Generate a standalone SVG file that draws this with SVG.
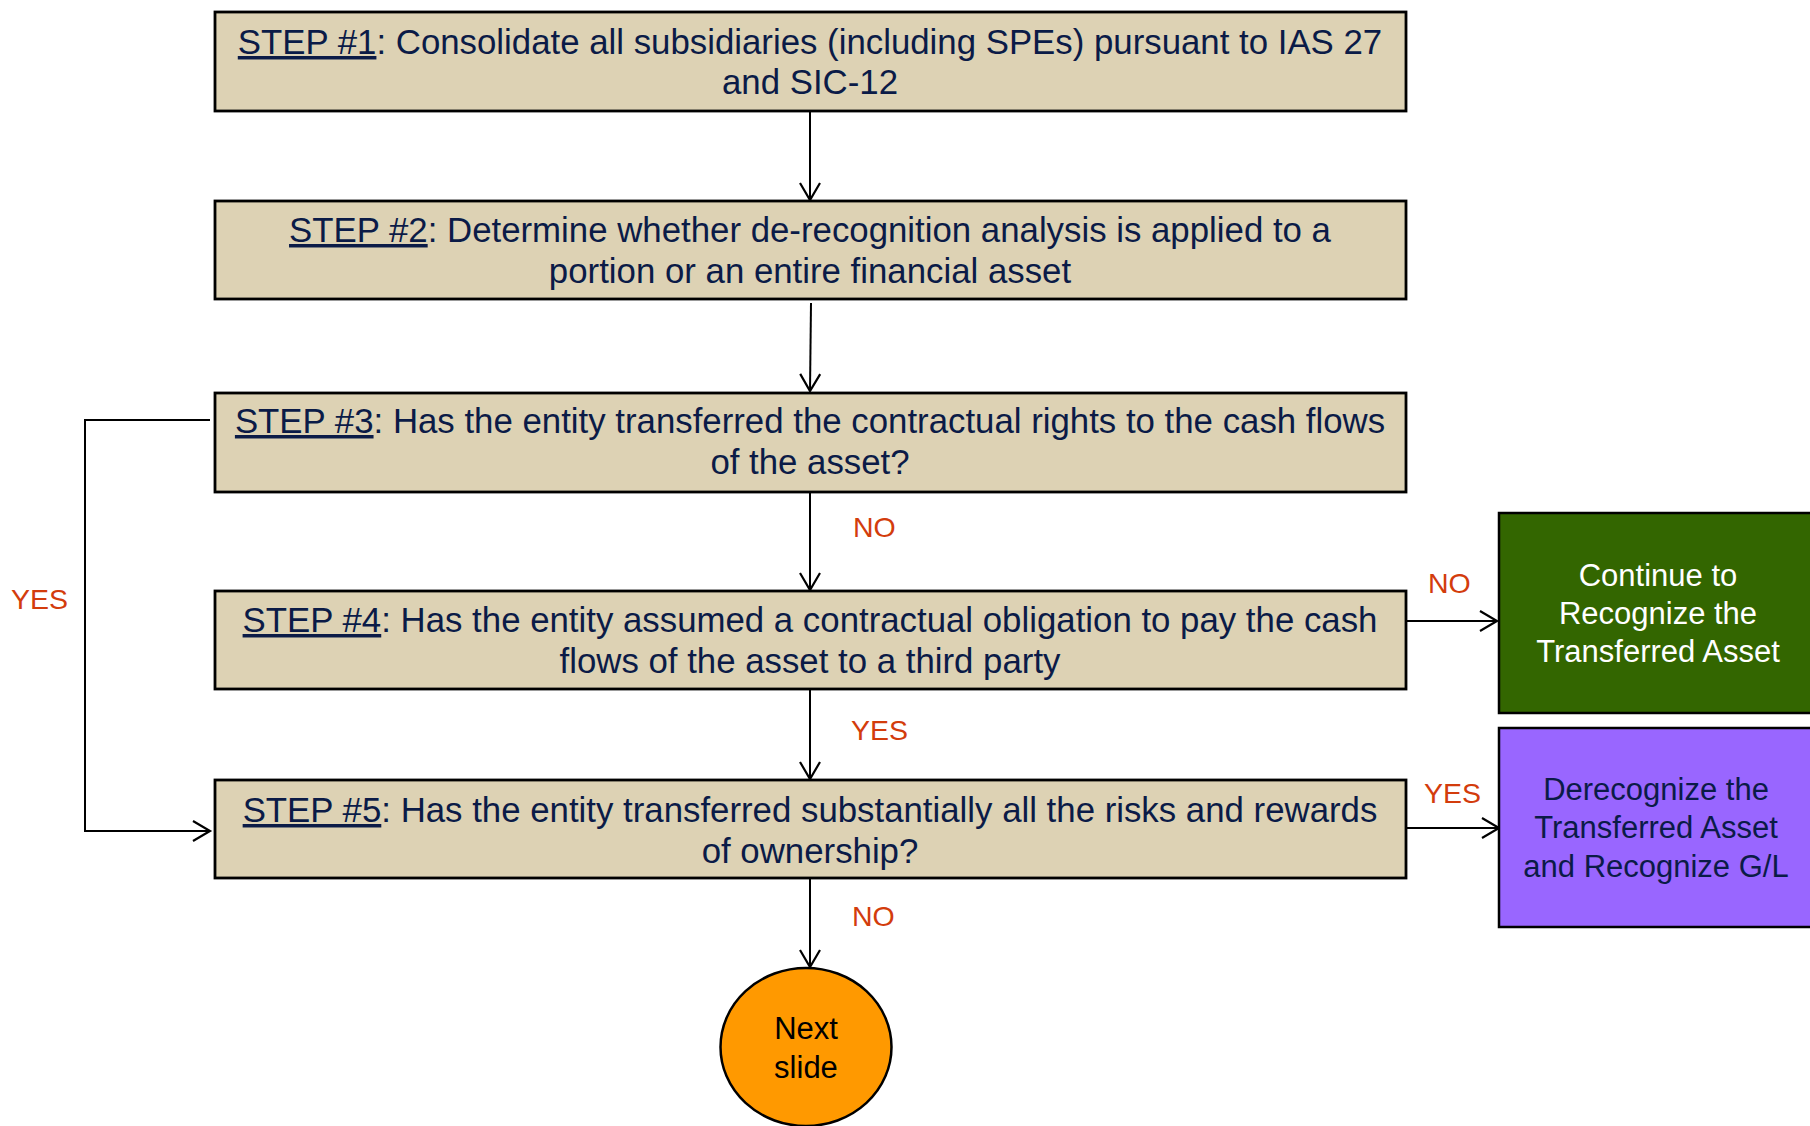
<svg xmlns="http://www.w3.org/2000/svg" width="1810" height="1126" viewBox="0 0 1810 1126">
  <style>
    .step rect { fill: #ddd2b4; stroke: #000; stroke-width: 2.8; }
    .step text { font-family: "Liberation Sans", Arial, sans-serif; font-size: 34.8px; fill: #0b1b47; text-anchor: middle; }
    .u { text-decoration: underline; }
    .lbl { font-family: "Liberation Sans", Arial, sans-serif; font-size: 28.5px; fill: #d33c0c; }
    .out text { font-family: "Liberation Sans", Arial, sans-serif; font-size: 31px; text-anchor: middle; }
    .conn path { fill: none; stroke: #000; stroke-width: 2; marker-end: url(#arr); }
  </style>
  <defs>
    <marker id="arr" markerUnits="userSpaceOnUse" markerWidth="24" markerHeight="24" viewBox="-20 -12 22 24" refX="0" refY="0" orient="auto">
      <path d="M-17,-10 L0,0 L-17,10" fill="none" stroke="#000" stroke-width="2.2"/>
    </marker>
  </defs>
  <rect width="1810" height="1126" fill="#fff"/>

  <!-- connectors -->
  <g id="connectors" class="conn">
    <path d="M810,111 L810,200"/>
    <path d="M811,303 L810,391"/>
    <path d="M810,492 L810,590"/>
    <path d="M810,689 L810,779"/>
    <path d="M810,878 L810,967"/>
    <path d="M210,420 L85,420 L85,831 L210,831"/>
    <path d="M1406,621 L1497,621"/>
    <path d="M1406,828 L1499,828"/>
  </g>

  <!-- branch labels -->
  <g id="labels">
    <text class="lbl" x="853" y="537">NO</text>
    <text class="lbl" x="851" y="740">YES</text>
    <text class="lbl" x="852" y="926">NO</text>
    <text class="lbl" x="11" y="609">YES</text>
    <text class="lbl" x="1428" y="593">NO</text>
    <text class="lbl" x="1424" y="803">YES</text>
  </g>

  <g id="step1" class="step">
    <rect x="215" y="12" width="1191" height="99"/>
    <text x="810" y="54"><tspan class="u">STEP #1</tspan>: Consolidate all subsidiaries (including SPEs) pursuant to IAS 27</text>
    <text x="810" y="94">and SIC-12</text>
  </g>

  <g id="step2" class="step">
    <rect x="215" y="201" width="1191" height="98"/>
    <text x="810" y="242"><tspan class="u">STEP #2</tspan>: Determine whether de-recognition analysis is applied to a</text>
    <text x="810" y="283">portion or an entire financial asset</text>
  </g>

  <g id="step3" class="step">
    <rect x="215" y="393" width="1191" height="99"/>
    <text x="810" y="433"><tspan class="u">STEP #3</tspan>: Has the entity transferred the contractual rights to the cash flows</text>
    <text x="810" y="474">of the asset?</text>
  </g>

  <g id="step4" class="step">
    <rect x="215" y="591" width="1191" height="98"/>
    <text x="810" y="632"><tspan class="u">STEP #4</tspan>: Has the entity assumed a contractual obligation to pay the cash</text>
    <text x="810" y="673">flows of the asset to a third party</text>
  </g>

  <g id="step5" class="step">
    <rect x="215" y="780" width="1191" height="98"/>
    <text x="810" y="822"><tspan class="u">STEP #5</tspan>: Has the entity transferred substantially all the risks and rewards</text>
    <text x="810" y="863">of ownership?</text>
  </g>

  <g id="keep-asset" class="out">
    <rect x="1499" y="513" width="320" height="200" fill="#336600" stroke="#000" stroke-width="2.5"/>
    <text x="1658" y="586" fill="#fff">Continue to</text>
    <text x="1658" y="624" fill="#fff">Recognize the</text>
    <text x="1658" y="662" fill="#fff">Transferred Asset</text>
  </g>

  <g id="derecognize" class="out">
    <rect x="1499" y="728" width="320" height="199" fill="#9966ff" stroke="#000" stroke-width="2.5"/>
    <text x="1656" y="800" fill="#0b1b47">Derecognize the</text>
    <text x="1656" y="838" fill="#0b1b47">Transferred Asset</text>
    <text x="1656" y="877" fill="#0b1b47">and Recognize G/L</text>
  </g>

  <g id="next-slide" class="out">
    <ellipse cx="806" cy="1047" rx="85.5" ry="79" fill="#ff9900" stroke="#000" stroke-width="2.5"/>
    <text x="806" y="1039" fill="#000">Next</text>
    <text x="806" y="1078" fill="#000">slide</text>
  </g>
</svg>
